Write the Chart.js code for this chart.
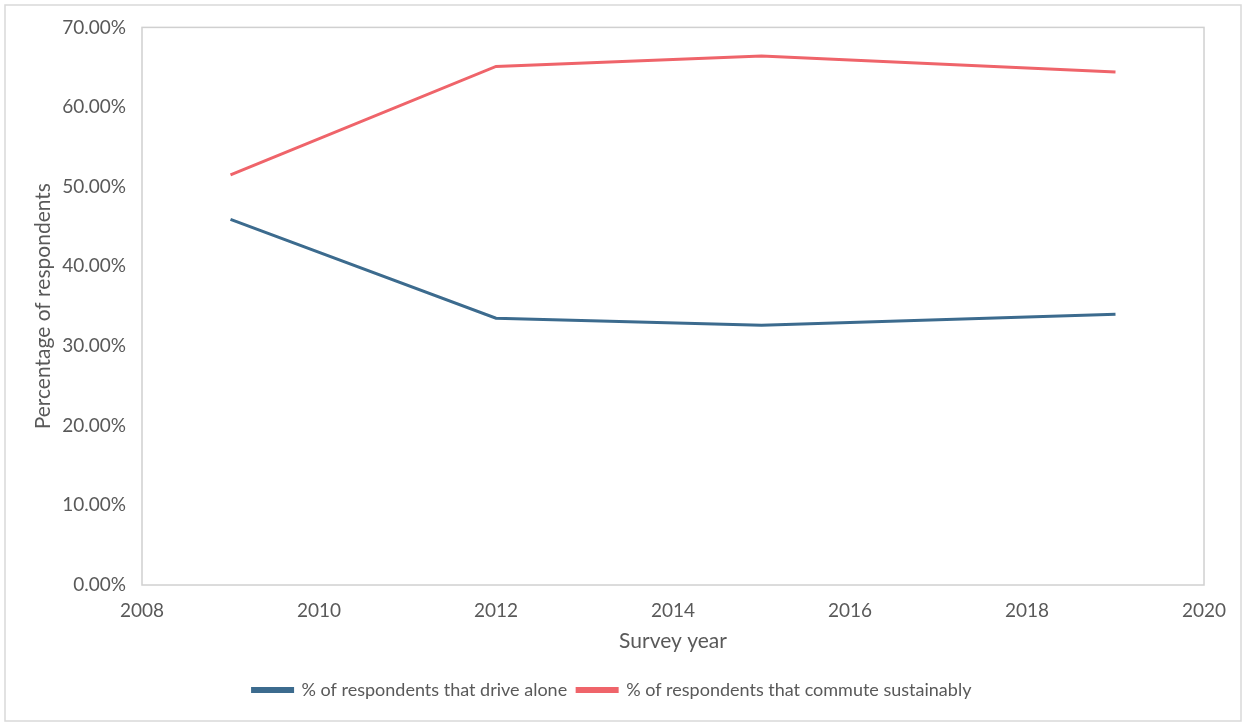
<!DOCTYPE html>
<html><head><meta charset="utf-8">
<script src="https://cdn.jsdelivr.net/npm/chart.js@4.4.1/dist/chart.umd.min.js"></script>
<style>html,body{margin:0;padding:0;background:#fff}#wrap{width:1246px;height:724px}</style>
</head><body><div id="wrap"><canvas id="c" width="1246" height="724"></canvas></div>
<script>
const years = [2009, 2012, 2015, 2019];
const driveAlone = [45.9, 33.5, 32.6, 34.0];
const commuteSustainably = [51.5, 65.1, 66.4, 64.4];
const seriesNames = ['% of respondents that drive alone', '% of respondents that commute sustainably'];
const seriesColors = ['#3c6b8e', '#ef646a'];
const xTitle = 'Survey year';
const yTitle = 'Percentage of respondents';

const txt = '#595959';
const FONT = 'Lato, "Open Sans", sans-serif';

const frame = {
  id: 'frame',
  beforeDraw(chart) {
    const ctx = chart.ctx;
    ctx.save();
    ctx.fillStyle = '#fff';
    ctx.fillRect(0, 0, chart.width, chart.height);
    ctx.strokeStyle = '#d9d9d9';
    ctx.lineWidth = 1.5;
    ctx.strokeRect(5, 5, 1236, 716);
    ctx.restore();
  },
  beforeDatasetsDraw(chart) {
    const a = chart.chartArea, ctx = chart.ctx;
    ctx.save();
    ctx.strokeStyle = '#d0d0d0';
    ctx.lineWidth = 1.5;
    ctx.strokeRect(a.left, a.top, a.right - a.left, a.bottom - a.top);
    ctx.restore();
  }
};

const toPts = arr => years.map((y, i) => ({x: y, y: arr[i]}));

new Chart(document.getElementById('c'), {
  type: 'line',
  data: {
    datasets: [
      {label: seriesNames[0], data: toPts(driveAlone), borderColor: seriesColors[0], backgroundColor: seriesColors[0], borderWidth: 3, pointRadius: 0, tension: 0},
      {label: seriesNames[1], data: toPts(commuteSustainably), borderColor: seriesColors[1], backgroundColor: seriesColors[1], borderWidth: 3, pointRadius: 0, tension: 0}
    ]
  },
  options: {
    responsive: false,
    animation: false,
    layout: {padding: {top: 25, right: 42, left: 20, bottom: 15}},
    plugins: {
      legend: {
        position: 'bottom',
        labels: {font: {family: FONT, size: 18}, color: txt, boxWidth: 40, boxHeight: 3, padding: 10}
      },
      tooltip: {enabled: false}
    },
    scales: {
      x: {
        type: 'linear', min: 2008, max: 2020,
        grid: {display: false, drawTicks: false},
        border: {display: false},
        ticks: {stepSize: 2, padding: 14, color: txt, font: {family: FONT, size: 19}, callback: v => String(v), maxRotation: 0},
        title: {display: true, text: xTitle, color: txt, font: {family: FONT, size: 21}, padding: {top: 8, bottom: 17}},
        afterFit: s => { s.height = 86; }
      },
      y: {
        min: 0, max: 70,
        grid: {display: false, drawTicks: false},
        border: {display: false},
        ticks: {stepSize: 10, padding: 16, color: txt, font: {family: FONT, size: 19}, callback: v => v.toFixed(2) + '%'},
        title: {display: true, text: yTitle, color: txt, font: {family: FONT, size: 21}, padding: {top: 11, bottom: 8}},
        afterFit: s => { s.width = 122; }
      }
    }
  },
  plugins: [frame]
});
</script>
</body></html>
